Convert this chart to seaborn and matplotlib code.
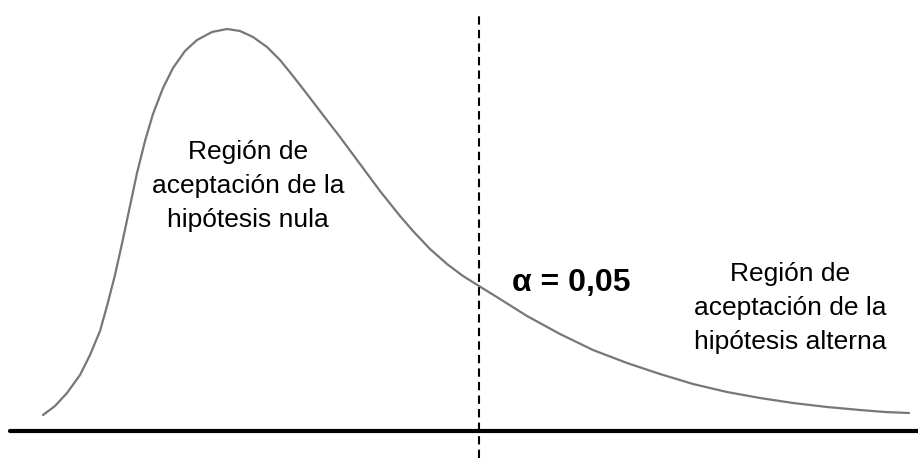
import matplotlib
matplotlib.use("Agg")
import matplotlib.pyplot as plt
import seaborn as sns

# curve (x position, density height)
x_vals = [4.3, 5.5, 6.7, 8.0, 9.0, 10.0, 10.7, 11.5, 12.3, 13.0, 13.7, 14.5,
          15.3, 16.3, 17.3, 18.5, 19.7, 21.2, 22.7, 24.0, 25.3, 26.7, 28.0,
          29.3, 30.7, 32.3, 34.0, 36.0, 38.0, 40.0, 41.3, 43.0, 44.7, 46.3,
          47.9, 50.0, 52.7, 56.0, 59.3, 62.7, 66.0, 69.3, 72.7, 76.0, 79.3,
          82.7, 86.0, 88.5, 90.9]
density = [0.16, 0.25, 0.38, 0.56, 0.76, 1.00, 1.25, 1.56, 1.92, 2.25, 2.58,
           2.90, 3.17, 3.43, 3.63, 3.80, 3.91, 3.99, 4.02, 4.00, 3.94, 3.84,
           3.71, 3.55, 3.37, 3.16, 2.94, 2.67, 2.40, 2.15, 2.00, 1.82, 1.67,
           1.55, 1.45, 1.32, 1.15, 0.97, 0.81, 0.68, 0.57, 0.47, 0.39, 0.33,
           0.28, 0.24, 0.21, 0.19, 0.18]

alpha_x = 47.9
alpha_label = "α = 0,05"
null_label = "Región de\naceptación de la\nhipótesis nula"
alt_label = "Región de\naceptación de la\nhipótesis alterna"

sns.set_theme(style="white")
plt.rcParams["font.family"] = ["Liberation Sans", "DejaVu Sans"]

fig = plt.figure(figsize=(9.18, 4.63), dpi=100)
ax = fig.add_axes([0, 0, 1, 1])

sns.lineplot(x=x_vals, y=density, color="#777777", linewidth=1.6, ax=ax)

# baseline and critical value
ax.axhline(0, xmin=1.0 / 91.8, xmax=1, color="black", linewidth=3)
ax.vlines(alpha_x, -0.27, 4.16, color="black", linewidth=1.5,
          linestyles=[(0, (4, 2.5))])

ax.text(24.8, 2.45, null_label, ha="center", va="center", fontsize=19,
        linespacing=1.52, color="black")
ax.text(79.0, 1.23, alt_label, ha="center", va="center", fontsize=19,
        linespacing=1.52, color="black")
ax.text(57.1, 1.48, alpha_label, ha="center", va="center", fontsize=23,
        fontweight="bold", color="black")

ax.set_xlim(0, 91.8)
ax.set_ylim(-0.32, 4.31)
ax.axis("off")

fig.savefig("out.png", dpi=100, facecolor="white")
